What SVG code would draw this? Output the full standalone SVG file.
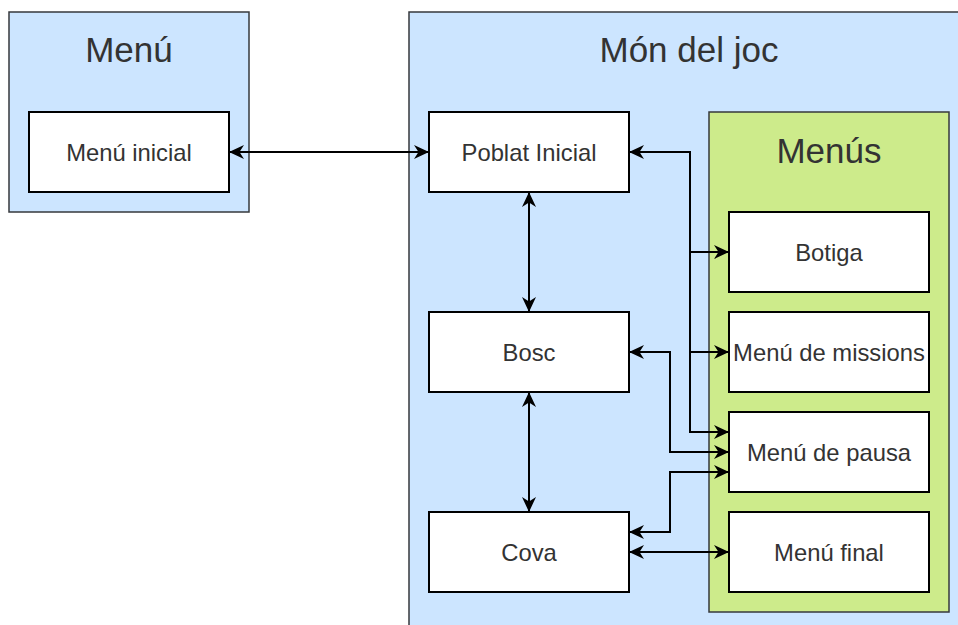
<svg xmlns="http://www.w3.org/2000/svg" width="958" height="625" viewBox="0 0 958 625">
<defs>
<style>
.panel{fill:#cce5ff;stroke:#36393d;stroke-width:1.5}
.green{fill:#cdeb8b;stroke:#36393d;stroke-width:1.5}
.node{fill:#ffffff;stroke:#000000;stroke-width:2}
.title{font-family:"Liberation Sans",Arial,Helvetica,sans-serif;font-size:35px;fill:#333333;text-anchor:middle}
.label{font-family:"Liberation Sans",Arial,Helvetica,sans-serif;font-size:23.8px;fill:#333333;text-anchor:middle}
.edge{fill:none;stroke:#000000;stroke-width:2}
</style>
<marker id="arr" viewBox="0 0 15 15" refX="14" refY="7.5" markerWidth="15" markerHeight="15" markerUnits="userSpaceOnUse" orient="auto-start-reverse">
<path d="M0,0.5 L15,7.5 L0,14.5 L4.5,7.5 Z" fill="#000000"/>
</marker>
</defs>
<g id="menu-panel">
<rect class="panel" x="9" y="12" width="240" height="200"/>
<text class="title" x="129" y="62">Menú</text>
</g>
<g id="mon-panel">
<rect class="panel" x="409" y="12" width="580" height="640"/>
<text class="title" x="689" y="62">Món del joc</text>
</g>
<g id="menus-panel">
<rect class="green" x="709" y="112" width="240" height="500"/>
<text class="title" x="829" y="163">Menús</text>
</g>
<g id="menu-inicial">
<rect class="node" x="29" y="112" width="200" height="80"/>
<text class="label" x="129" y="160.5">Menú inicial</text>
</g>
<g id="poblat-inicial">
<rect class="node" x="429" y="112" width="200" height="80"/>
<text class="label" x="529" y="160.5">Poblat Inicial</text>
</g>
<g id="bosc">
<rect class="node" x="429" y="312" width="200" height="80"/>
<text class="label" x="529" y="360.5">Bosc</text>
</g>
<g id="cova">
<rect class="node" x="429" y="512" width="200" height="80"/>
<text class="label" x="529" y="560.5">Cova</text>
</g>
<g id="botiga">
<rect class="node" x="729" y="212" width="200" height="80"/>
<text class="label" x="829" y="260.5">Botiga</text>
</g>
<g id="menu-missions">
<rect class="node" x="729" y="312" width="200" height="80"/>
<text class="label" x="829" y="360.5">Menú de missions</text>
</g>
<g id="menu-pausa">
<rect class="node" x="729" y="412" width="200" height="80"/>
<text class="label" x="829" y="460.5">Menú de pausa</text>
</g>
<g id="menu-final">
<rect class="node" x="729" y="512" width="200" height="80"/>
<text class="label" x="829" y="560.5">Menú final</text>
</g>
<g id="connectors">
<path class="edge" d="M230,152 H428" marker-start="url(#arr)" marker-end="url(#arr)"/>
<path class="edge" d="M529,193 V311" marker-start="url(#arr)" marker-end="url(#arr)"/>
<path class="edge" d="M529,393 V511" marker-start="url(#arr)" marker-end="url(#arr)"/>
<path class="edge" d="M630,152 H690 V252 H728" marker-start="url(#arr)" marker-end="url(#arr)"/>
<path class="edge" d="M630,152 H690 V352 H728" marker-end="url(#arr)"/>
<path class="edge" d="M630,152 H690 V432 H728" marker-end="url(#arr)"/>
<path class="edge" d="M630,352 H670 V452 H728" marker-start="url(#arr)" marker-end="url(#arr)"/>
<path class="edge" d="M630,532 H670 V472 H728" marker-start="url(#arr)" marker-end="url(#arr)"/>
<path class="edge" d="M630,552 H728" marker-start="url(#arr)" marker-end="url(#arr)"/>
</g>
</svg>
